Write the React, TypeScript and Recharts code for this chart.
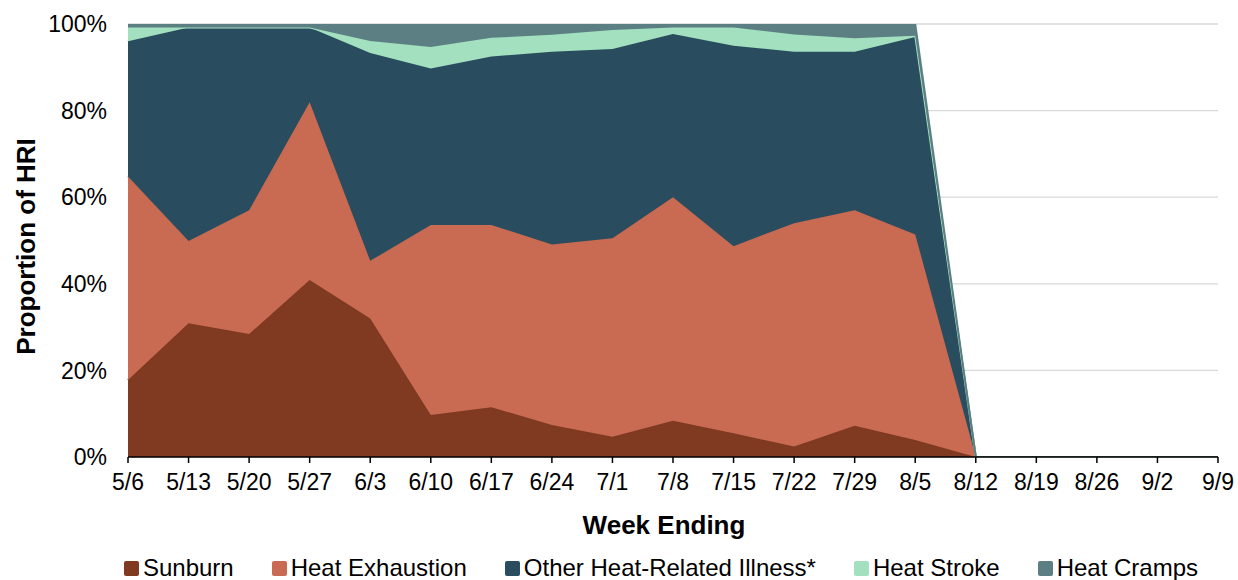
import React from 'react';
import { AreaChart, Area, XAxis, YAxis, CartesianGrid, Legend } from 'recharts';

const weeks = ['5/6', '5/13', '5/20', '5/27', '6/3', '6/10', '6/17', '6/24', '7/1', '7/8', '7/15', '7/22', '7/29', '8/5', '8/12', '8/19', '8/26', '9/2', '9/9'];
const sunburn = [17.8, 30.9, 28.4, 40.9, 32.0, 9.7, 11.5, 7.4, 4.7, 8.4, 5.5, 2.4, 7.2, 3.9, 0, 0, 0, 0, 0];
const heatExhaustion = [47.0, 19.0, 28.6, 41.0, 13.3, 43.9, 42.1, 41.7, 45.8, 51.6, 43.2, 51.6, 49.8, 47.5, 0, 0, 0, 0, 0];
const otherHRI = [31.2, 49.3, 42.2, 17.3, 48.0, 36.1, 38.9, 44.5, 43.7, 37.7, 46.3, 39.6, 36.6, 45.6, 0, 0, 0, 0, 0];
const heatStroke = [3.2, 0, 0, 0, 2.8, 5.0, 4.3, 3.9, 4.4, 1.5, 4.2, 4.0, 3.1, 0.3, 0, 0, 0, 0, 0];
const heatCramps = [0.8, 0.8, 0.8, 0.8, 3.9, 5.3, 3.2, 2.5, 1.4, 0.8, 0.8, 2.4, 3.3, 2.7, 0, 0, 0, 0, 0];

const seriesKeys = ['sunburn', 'heatExhaustion', 'otherHRI', 'heatStroke', 'heatCramps'];
const seriesNames = ['Sunburn', 'Heat Exhaustion', 'Other Heat-Related Illness*', 'Heat Stroke', 'Heat Cramps'];
const seriesColors = ['#7F3A21', '#C96A52', '#294D5E', '#A3E0BF', '#5B7F83'];
const yTicks = [0, 20, 40, 60, 80, 100];

const data = weeks.map((w, i) => ({
  week: w,
  sunburn: sunburn[i],
  heatExhaustion: heatExhaustion[i],
  otherHRI: otherHRI[i],
  heatStroke: heatStroke[i],
  heatCramps: heatCramps[i],
}));

const FONT = '"Liberation Sans", Arial, sans-serif';

const LegendContent = () => (
  <div style={{ display: 'flex', justifyContent: 'center', alignItems: 'center', fontFamily: FONT, fontSize: 24, color: '#000', height: 30 }}>
    {seriesNames.map((n, i) => (
      <div key={n} style={{ display: 'flex', alignItems: 'center', marginRight: i < seriesNames.length - 1 ? 38 : 0 }}>
        <span style={{ display: 'inline-block', width: 15, height: 15, background: seriesColors[i], borderRadius: 2, marginRight: 4 }} />
        <span style={{ lineHeight: '30px', whiteSpace: 'nowrap' }}>{n}</span>
      </div>
    ))}
  </div>
);

const YLabel = (props: any) => {
  const vb = props.viewBox || { x: 0, y: 0, width: 0, height: 0 };
  const cx = vb.x + 26;
  const cy = vb.y + vb.height / 2 + 6;
  return (
    <text x={cx} y={cy} transform={`rotate(-90 ${cx} ${cy})`} textAnchor="middle" dominantBaseline="central"
      style={{ fontFamily: FONT, fontSize: 26, fontWeight: 'bold', fill: '#000' }}>
      Proportion of HRI
    </text>
  );
};

export default function App() {
  return (
    <div style={{ position: 'absolute', left: 0, top: 0, width: 1238, height: 580, background: '#fff' }}>
      <AreaChart width={1238} height={580} data={data} margin={{ top: 24, right: 20, left: 0, bottom: 0 }} style={{ fontFamily: FONT }}>
        <CartesianGrid vertical={false} stroke="#d9d9d9" strokeWidth={1.3} />
        <XAxis
          dataKey="week"
          interval={0}
          height={93}
          tickSize={6}
          tickMargin={11}
          axisLine={{ stroke: '#000', strokeWidth: 1.5 }}
          tickLine={{ stroke: '#000', strokeWidth: 1.5 }}
          tick={{ fill: '#000', fontSize: 23, fontFamily: FONT }}
          label={{ value: 'Week Ending', position: 'insideBottom', offset: 16, dx: -9, style: { fontFamily: FONT, fontSize: 26, fontWeight: 'bold', fill: '#000' } }}
        />
        <YAxis
          width={128}
          domain={[0, 100]}
          ticks={yTicks}
          allowDataOverflow
          axisLine={false}
          tickLine={false}
          tickSize={0}
          tickMargin={21}
          tickFormatter={(v: number) => `${v}%`}
          tick={{ fill: '#000', fontSize: 23, fontFamily: FONT }}
          label={{ content: YLabel }}
        />
        <Legend verticalAlign="bottom" content={LegendContent}
          wrapperStyle={{ top: 553, bottom: 'auto', left: 86, width: 1150, height: 30 }} />
        {seriesKeys.map((k, i) => (
          <Area
            key={k}
            type="linear"
            dataKey={k}
            name={seriesNames[i]}
            stackId="1"
            stroke={seriesColors[i]}
            strokeWidth={2}
            fill={seriesColors[i]}
            fillOpacity={1}
            dot={false}
            activeDot={false}
            isAnimationActive={false}
          />
        ))}
      </AreaChart>
    </div>
  );
}
